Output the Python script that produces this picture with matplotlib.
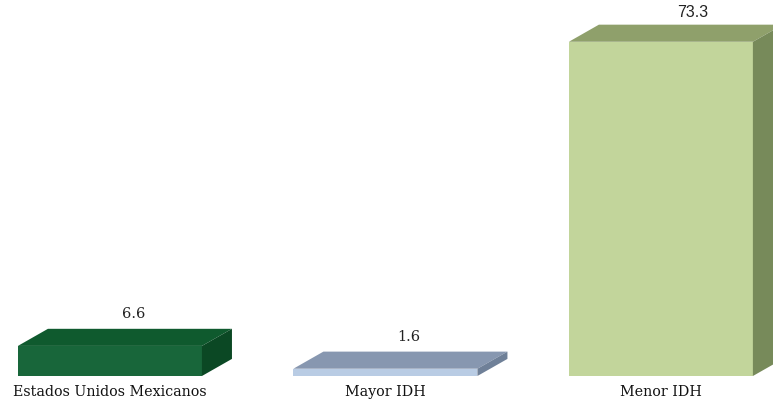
import matplotlib.pyplot as plt
from matplotlib.patches import Polygon

# Porcentaje por grupo de municipios
categorias = ["Estados Unidos Mexicanos", "Mayor IDH", "Menor IDH"]
valores = [6.6, 1.6, 73.3]
etiquetas = ["6.6", "1.6", "73.3"]

frente = ["#18663a", "#b9cce4", "#c2d59b"]
techo = ["#0f5a2e", "#8797b0", "#8fa06b"]
lado = ["#0b4824", "#6f8098", "#778a5a"]

ancho = 0.668
dx, dy = 0.109, 3.75  # profundidad del efecto 3D

fig = plt.figure(figsize=(7.73, 4.03), dpi=100)
ax = fig.add_axes([0, 0, 1, 1])
ax.set_xlim(-0.399, 2.407)
ax.set_ylim(-5.92, 82.46)
ax.axis("off")

pos = list(range(len(categorias)))
ax.bar(pos, valores, width=ancho, color=frente, zorder=2)

for i, v in enumerate(valores):
    x0, x1 = i - ancho / 2, i + ancho / 2
    ax.add_patch(Polygon([(x0, v), (x1, v), (x1 + dx, v + dy), (x0 + dx, v + dy)],
                         closed=True, facecolor=techo[i], edgecolor="none", zorder=2))
    ax.add_patch(Polygon([(x1, 0), (x1 + dx, dy), (x1 + dx, v + dy), (x1, v)],
                         closed=True, facecolor=lado[i], edgecolor="none", zorder=2))
    if i == 2:
        ax.text(i + 0.115, v + dy + 1.6, etiquetas[i], ha="center", va="baseline",
                fontsize=11.5, family="Liberation Sans", color="#222222")
    else:
        ax.text(i + 0.085, v + dy + 2.3, etiquetas[i], ha="center", va="baseline",
                fontsize=10.5, family="DejaVu Serif", color="#222222")
    ax.text(i, -3.5, categorias[i], ha="center", va="center",
            fontsize=10.3, family="DejaVu Serif", color="#111111")

fig.savefig("out.png", dpi=100)
